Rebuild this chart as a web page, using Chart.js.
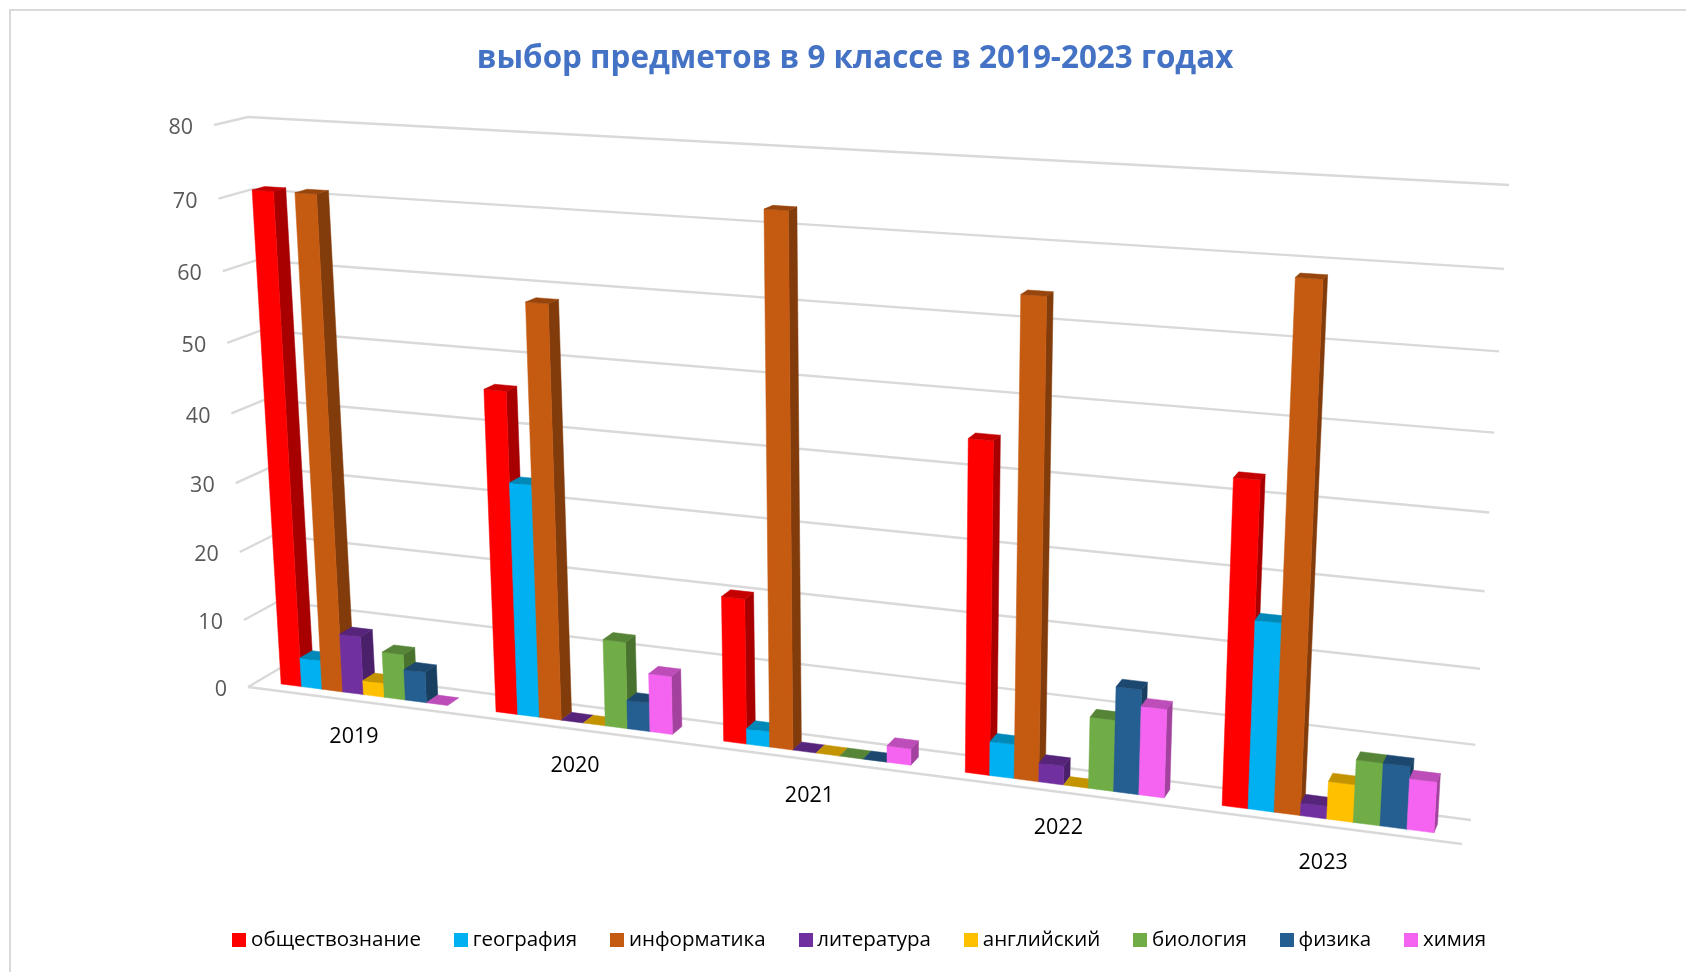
<!DOCTYPE html>
<html>
<head>
<meta charset="utf-8">
<script src="https://cdn.jsdelivr.net/npm/chart.js@4/dist/chart.umd.min.js"></script>
<style>
    html, body { margin: 0; background: #fff; overflow: hidden; }
    #quadro { position: absolute; left: 9px; top: 9px; width: 1677px; height: 963px; border-left: 2px solid #d9d9d9; border-top: 2px solid #d9d9d9; }
    canvas { position: absolute; left: 0; top: 0; }
</style>
</head>
<body>
<div id="quadro"></div>
<canvas id="graficoPredmety" width="1686" height="972"></canvas>
<script>
const anos = ['2019', '2020', '2021', '2022', '2023'];
const obshchestvoznanie = [71, 45.9, 20.4, 45, 43];
const geografia = [4.3, 33.2, 2.2, 4.7, 25];
const informatika = [71, 58.3, 72.7, 64, 68.4];
const literatura = [8.6, 0, 0, 2.6, 1.7];
const angliyskiy = [2.1, 0, 0, 0, 5];
const biologia = [6.7, 12.4, 0, 9.7, 8.3];
const fizika = [4.5, 4.1, 0, 14.2, 8.3];
const himia = [0, 8.3, 2.3, 12, 6.7];
const ticksY = [0, 10, 20, 30, 40, 50, 60, 70, 80];

// canto superior esq, superior dir, inferior dir, inferior esq
const paredeFundo = [[248, 117], [1509, 185], [1471, 820], [282, 667]];
const bordaFrente = [[214, 125], [1500, 195], [1462, 844], [248, 687]];
const frenteBarra = 0.3;
const fundoBarra = 0.67;

function criarMapa(q) {
    const dx1 = q[1][0] - q[2][0], dx2 = q[3][0] - q[2][0], sx = q[0][0] - q[1][0] + q[2][0] - q[3][0];
    const dy1 = q[1][1] - q[2][1], dy2 = q[3][1] - q[2][1], sy = q[0][1] - q[1][1] + q[2][1] - q[3][1];
    const den = dx1 * dy2 - dx2 * dy1;
    const g = (sx * dy2 - dx2 * sy) / den;
    const h = (dx1 * sy - sx * dy1) / den;
    const a = q[1][0] - q[0][0] + g * q[1][0], b = q[3][0] - q[0][0] + h * q[3][0];
    const d = q[1][1] - q[0][1] + g * q[1][1], e = q[3][1] - q[0][1] + h * q[3][1];
    return function (u, v) {
        const w = g * u + h * v + 1;
        return [(a * u + b * v + q[0][0]) / w, (d * u + e * v + q[0][1]) / w];
    };
}

function planoProfundidade(p) {
    return criarMapa(bordaFrente.map((c, i) => [c[0] + p * (paredeFundo[i][0] - c[0]), c[1] + p * (paredeFundo[i][1] - c[1])]));
}

const mapaFrente = planoProfundidade(0);
const mapaFundo = planoProfundidade(1);
const mapaBarraFrente = planoProfundidade(frenteBarra);
const mapaBarraFundo = planoProfundidade(fundoBarra);

function escurecer(hex, f) {
    const n = parseInt(hex.slice(1), 16);
    return `rgb(${Math.round((n >> 16) * f)}, ${Math.round(((n >> 8) & 255) * f)}, ${Math.round((n & 255) * f)})`;
}

function face(ctx, pontos, cor) {
    ctx.beginPath();
    pontos.forEach((p, i) => i ? ctx.lineTo(p[0], p[1]) : ctx.moveTo(p[0], p[1]));
    ctx.closePath();
    ctx.fillStyle = cor;
    ctx.strokeStyle = cor;
    ctx.lineWidth = 0.5;
    ctx.fill();
    ctx.stroke();
}

function linha(ctx, a, b) {
    ctx.beginPath();
    ctx.moveTo(a[0], a[1]);
    ctx.lineTo(b[0], b[1]);
    ctx.stroke();
}

const perspectiva = {
    id: 'perspectiva',
    beforeDatasetsDraw(chart) {
        const ctx = chart.ctx;
        const area = chart.chartArea;
        const escalaY = chart.scales.y;
        const escalaX = chart.scales.x;
        const uDe = x => (x - area.left) / (area.right - area.left);
        const vDe = y => (y - area.top) / (area.bottom - area.top);

        ctx.save();
        // grade
        ctx.strokeStyle = '#d9d9d9';
        ctx.lineWidth = 2.4;
        escalaY.ticks.forEach(t => {
            const v = vDe(escalaY.getPixelForValue(t.value));
            linha(ctx, mapaFrente(0, v), mapaFundo(0, v));
            linha(ctx, mapaFundo(0, v), mapaFundo(1, v));
        });
        linha(ctx, mapaFrente(0, 1), mapaFrente(1, 1));

        // rotulos
        ctx.textBaseline = 'middle';
        ctx.textAlign = 'right';
        ctx.fillStyle = '#595959';
        ctx.font = '21.5px "Open Sans"';
        escalaY.ticks.forEach(t => {
            const v = vDe(escalaY.getPixelForValue(t.value));
            const p = mapaFrente(0, v);
            ctx.fillText(t.label, p[0] - 21, p[1] + 3);
        });
        ctx.textAlign = 'center';
        ctx.fillStyle = '#000';
        ctx.font = '21.5px "Open Sans"';
        anos.forEach((ano, i) => {
            const p = mapaFrente(uDe(escalaX.getPixelForValue(i)), 1);
            ctx.fillText(ano, p[0], p[1] + 36.5);
        });

        // barras
        chart.data.labels.forEach((_, c) => {
            chart.data.datasets.forEach((ds, s) => {
                const el = chart.getDatasetMeta(s).data[c];
                const u0 = uDe(el.x - el.width / 2), u1 = uDe(el.x + el.width / 2);
                const vt = vDe(el.y), vb = vDe(el.base);
                if (ds.data[c] > 0) {
                    face(ctx, [mapaBarraFrente(u1, vt), mapaBarraFundo(u1, vt), mapaBarraFundo(u1, vb), mapaBarraFrente(u1, vb)], escurecer(ds.backgroundColor, 0.66));
                    face(ctx, [mapaBarraFrente(u0, vt), mapaBarraFrente(u1, vt), mapaBarraFrente(u1, vb), mapaBarraFrente(u0, vb)], ds.backgroundColor);
                }
                face(ctx, [mapaBarraFrente(u0, vt), mapaBarraFundo(u0, vt), mapaBarraFundo(u1, vt), mapaBarraFrente(u1, vt)], escurecer(ds.backgroundColor, 0.77));
            });
        });
        ctx.restore();
        return false;
    }
};

function quadradoLegenda(cor) {
    const c = document.createElement('canvas');
    c.width = 14;
    c.height = 14;
    const g = c.getContext('2d');
    g.fillStyle = cor;
    g.fillRect(0, 0, 14, 14);
    return c;
}

const dados = {
    labels: anos,
    datasets: [
        { label: 'обществознание', data: obshchestvoznanie, backgroundColor: '#ff0000' },
        { label: 'география', data: geografia, backgroundColor: '#00b0f0' },
        { label: 'информатика', data: informatika, backgroundColor: '#c55a11' },
        { label: 'литература', data: literatura, backgroundColor: '#7030a0' },
        { label: 'английский', data: angliyskiy, backgroundColor: '#ffc000' },
        { label: 'биология', data: biologia, backgroundColor: '#70ad47' },
        { label: 'физика', data: fizika, backgroundColor: '#255e91' },
        { label: 'химия', data: himia, backgroundColor: '#f564f0' }
    ]
};

const config = {
    type: 'bar',
    data: dados,
    plugins: [perspectiva],
    options: {
        responsive: false,
        animation: false,
        layout: { padding: { left: 24, right: 0, top: 40, bottom: 12 } },
        datasets: { bar: { categoryPercentage: 0.78, barPercentage: 1 } },
        scales: {
            x: { grid: { display: false }, border: { display: false }, ticks: { display: false } },
            y: {
                min: 0, max: 80,
                afterBuildTicks: escala => { escala.ticks = ticksY.map(v => ({ value: v })); },
                afterFit: escala => { escala.width = 14; },
                grid: { display: false }, border: { display: false }, ticks: { display: false }
            }
        },
        plugins: {
            tooltip: { enabled: false },
            title: {
                display: true,
                text: 'выбор предметов в 9 классе в 2019-2023 годах',
                color: '#4472c4',
                font: { family: '"Open Sans"', size: 31.4, weight: 'bold' },
                padding: { top: 0, bottom: 20 }
            },
            legend: {
                position: 'bottom',
                fullSize: false,
                labels: {
                    usePointStyle: true,
                    pointStyleWidth: 3,
                    boxHeight: 14,
                    padding: 38.5,
                    color: '#000',
                    font: { family: '"Open Sans"', size: 20.5 },
                    generateLabels: chart => Chart.defaults.plugins.legend.labels.generateLabels(chart).map(item => {
                        item.pointStyle = quadradoLegenda(item.fillStyle);
                        return item;
                    })
                }
            }
        }
    }
};

var ctx = document.getElementById('graficoPredmety').getContext('2d');
let grafico = new Chart(ctx, config);
</script>
</body>
</html>
